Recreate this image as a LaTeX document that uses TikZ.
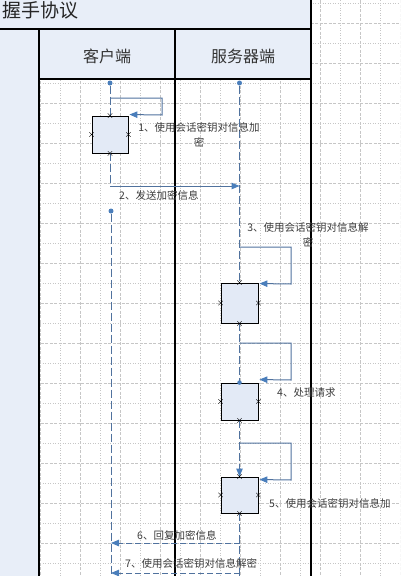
\documentclass[tikz,border=0pt]{standalone}
\usepackage{fontspec}
\setmainfont{Noto Sans CJK SC}
\usepackage{tikz}
\usetikzlibrary{arrows.meta,positioning,calc,shapes.misc}

\definecolor{laneblue}{HTML}{E8EEF8}
\definecolor{boxblue}{HTML}{E3EAF6}
\definecolor{lifeblue}{HTML}{50729E}
\definecolor{tipblue}{HTML}{4A7EBB}
\definecolor{gridgray}{HTML}{C6C6C6}
\definecolor{textgray}{HTML}{3C3C3C}

\begin{document}
\begin{tikzpicture}[x=1pt,y=-1pt,
  gridA/.style={gridgray,line width=0.6pt,dash pattern=on 1pt off 1.5pt},
  gridB/.style={gridgray,line width=0.6pt,dash pattern=on 3pt off 1.5pt},
  frameline/.style={black,line width=1.2pt},
  lanehead/.style={font=\fontsize{16}{16}\selectfont,text=black!80},
  actbox/.style={draw=black,fill=boxblue,line width=0.9pt,inner sep=0pt,minimum width=37pt},
  lifeline/.style={lifeblue,line width=1pt,dash pattern=on 8pt off 3pt},
  msgtip/.style={-{Triangle[length=8pt,width=6.5pt,color=tipblue]}},
  msg/.style={lifeblue,line width=1pt,msgtip},
  replymsg/.style={lifeblue,line width=1pt,dash pattern=on 6pt off 3pt,msgtip},
  conx/.style={cross out,draw=black,line width=0.4pt,minimum size=4pt,inner sep=0pt},
  startdot/.style={circle,fill=tipblue,inner sep=0pt,minimum size=5pt},
  msglabel/.style={font=\fontsize{10.5}{15}\selectfont,text=textgray,inner sep=0pt}
]
  \useasboundingbox (0,0) rectangle (400,576);
  \clip (0,0) rectangle (400,576);

  % 背景网格
  \foreach \k in {0,...,20} {
    \ifodd\k\relax \draw[gridA] (20*\k,0) -- (20*\k,576);
    \else \draw[gridB] (20*\k,0) -- (20*\k,576); \fi
  }
  \foreach \k in {0,...,28} {
    \ifodd\k\relax \draw[gridB] (0,3+20*\k) -- (400,3+20*\k);
    \else \draw[gridA] (0,3+20*\k) -- (400,3+20*\k); \fi
  }

  % 泳道框架
  \fill[laneblue] (0,0) rectangle (311,29);   % 标题栏
  \fill[laneblue] (0,29) rectangle (39,576);  % 左侧栏
  \fill[laneblue] (39,29) rectangle (311,79); % 表头
  \draw[black,line width=2pt] (0,29) -- (311,29);
  \draw[frameline] (311,0) -- (311,576);
  \draw[frameline] (39,29) -- (39,576);
  \draw[frameline] (175,29) -- (175,576);
  \draw[frameline] (39,79) -- (311,79);

  \node[font=\fontsize{19}{19}\selectfont,anchor=west,inner sep=0pt,text=black!85] (title) at (2,10) {握手协议};
  \node[lanehead] (client) at (107,56) {客户端};
  \node[lanehead] (server) at (243,56) {服务器端};

  % 生命线起点与激活框
  \node[startdot] (cdot) at (110,83) {};
  \node[startdot] (sdot) at (239.5,83) {};
  \node[startdot] (cdot2) at (111,211) {};
  \node[actbox,minimum width=36pt,minimum height=37pt] (box1) at (110,134.5) {};
  \node[actbox,minimum height=40pt] (box3) at (239.5,303) {};
  \node[actbox,minimum height=37pt] (box4) at (239.5,401.5) {};
  \node[actbox,minimum height=36pt] (box5) at (239.5,495) {};

  \coordinate (m1s) at (110,98);
  \coordinate (m2s) at (110,186);
  \coordinate (m3s) at (239.5,247);
  \coordinate (m4s) at (239.5,343);
  \coordinate (m5s) at (239.5,443);
  \coordinate (m6s) at (239.5,543);
  \coordinate (m7s) at (239.5,573);

  % 生命线
  \draw[lifeline] (cdot) -- (box1.north);
  \draw[lifeline] (box1.south) -- (m2s);
  \draw[lifeline] (cdot2) -- (111,576);
  \draw[lifeline] (sdot) -- (box3.north);
  \draw[lifeline] (box3.south) -- (box4.north);
  \draw[lifeline,msgtip] (box4.south) -- (box5.north);
  \draw[lifeline] (box5.south) -- (239.5,576);

  % 消息
  \draw[msg] (m1s) -| (162,115) -- ($(box1.north east)+(1,-1)$);
  \draw[msg] (m2s) -- (m2s -| sdot);
  \draw[msg] (m3s) -| (291,284) -- ($(box3.north east)+(1,1)$);
  \draw[msg] (m4s) -| (291,380) -- ($(box4.north east)+(1,-3)$);
  \draw[msg] (m5s) -| (291,480) -- ($(box5.north east)+(1,3)$);
  \draw[replymsg] (m6s) -- (m6s -| cdot2);
  \draw[replymsg] (m7s) -- (m7s -| cdot2);

  % 连接点
  \foreach \b in {box1,box3,box5} {
    \foreach \a in {north,south,east,west} \node[conx] at (\b.\a) {};
  }
  \foreach \a in {south,east,west} \node[conx] at (box4.\a) {};
  \node[startdot,minimum size=4.5pt] at (box4.north) {};

  % 标签
  \node[msglabel,align=center] (lab1) at (199,134.5) {1、使用会话密钥对信息加\\密};
  \node[msglabel,anchor=west] (lab2) at (119,195) {2、发送加密信息};
  \node[msglabel,align=center] (lab3) at (308,234.5) {3、使用会话密钥对信息解\\密};
  \node[msglabel,anchor=west] (lab4) at (277,393) {4、处理请求};
  \node[msglabel,anchor=west] (lab5) at (269,503) {5、使用会话密钥对信息加};
  \node[msglabel,anchor=west] (lab6) at (137,535) {6、回复加密信息};
  \node[msglabel,anchor=west] (lab7) at (125,563) {7、使用会话密钥对信息解密};
\end{tikzpicture}
\end{document}
